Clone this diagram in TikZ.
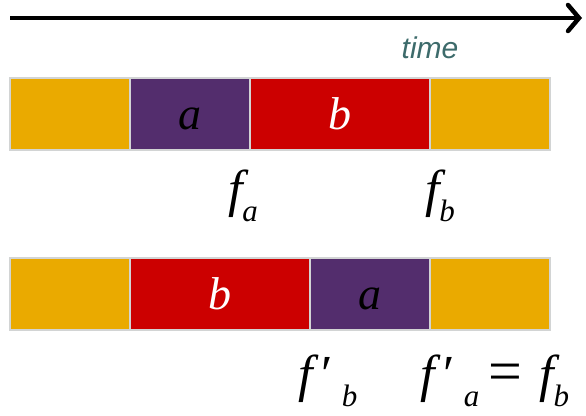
\documentclass[tikz,border=0pt]{standalone}
\usepackage{fontspec}
\setmainfont{Liberation Serif}
\setsansfont{Liberation Sans}
\usetikzlibrary{positioning,arrows.meta}

\definecolor{idlecol}{HTML}{EAAA00}
\definecolor{acol}{HTML}{532D6D}
\definecolor{bcol}{HTML}{CC0000}
\definecolor{timecol}{HTML}{3D6B6B}
\definecolor{edgecol}{HTML}{D2D4D4}

% finish time f_x, and f'_x
\newcommand{\fsub}[1]{\raisebox{-0.3em}{\fontsize{31}{31}\selectfont\itshape #1}}
\newcommand{\ftime}[1]{{\itshape f}\fsub{#1}}
\newcommand{\fptime}[1]{{\itshape f}\,\char"2032\,\fsub{#1}}

\tikzset{
  seg/.style={draw=edgecol, line width=2.5pt, minimum height=72pt, inner sep=0pt, outer sep=0pt,
    font=\fontsize{46}{46}\selectfont\itshape, text depth=0pt, text height=30pt},
  idle/.style={seg, fill=idlecol, minimum width=120pt},
  joba/.style={seg, fill=acol, minimum width=120pt},
  jobb/.style={seg, fill=bcol, text=white, minimum width=180pt},
  flabel/.style={font=\fontsize{52}{52}\selectfont, inner sep=0pt}
}

\begin{document}
\begin{tikzpicture}[x=1pt, y=-1pt]
    \useasboundingbox (0,0) rectangle (586,415);

    % time axis
    \coordinate (t0) at (10,18);
    \coordinate (t1) at (582,18);
    \draw[line width=4.5pt, -{Straight Barb[length=11pt, width=26pt, line cap=round]}] (t0) -- (t1);
    \node (time) [text=timecol, font=\fontsize{30}{30}\selectfont\sffamily\itshape] at (430,48) {time};

    % a before b
    \node (i1) [idle] at (70,114) {};
    \node (a1) [joba, right=0pt of i1] {a};
    \node (b1) [jobb, right=0pt of a1] {b};
    \node (j1) [idle, right=0pt of b1] {};

    \node (fa) [flabel] at (243,196) {\ftime{a}};
    \node (fb) [flabel] at (440,196) {\ftime{b}};

    % b before a
    \node (i2) [idle] at (70,294) {};
    \node (b2) [jobb, right=0pt of i2] {b};
    \node (a2) [joba, right=0pt of b2] {a};
    \node (j2) [idle, right=0pt of a2] {};

    \node (fpb) [flabel] at (328,381) {\fptime{b}};
    \node (fpa) [flabel] at (495,381) {\fptime{a}\,{\fontsize{60}{60}\selectfont=}\,\,\ftime{b}};
\end{tikzpicture}
\end{document}
